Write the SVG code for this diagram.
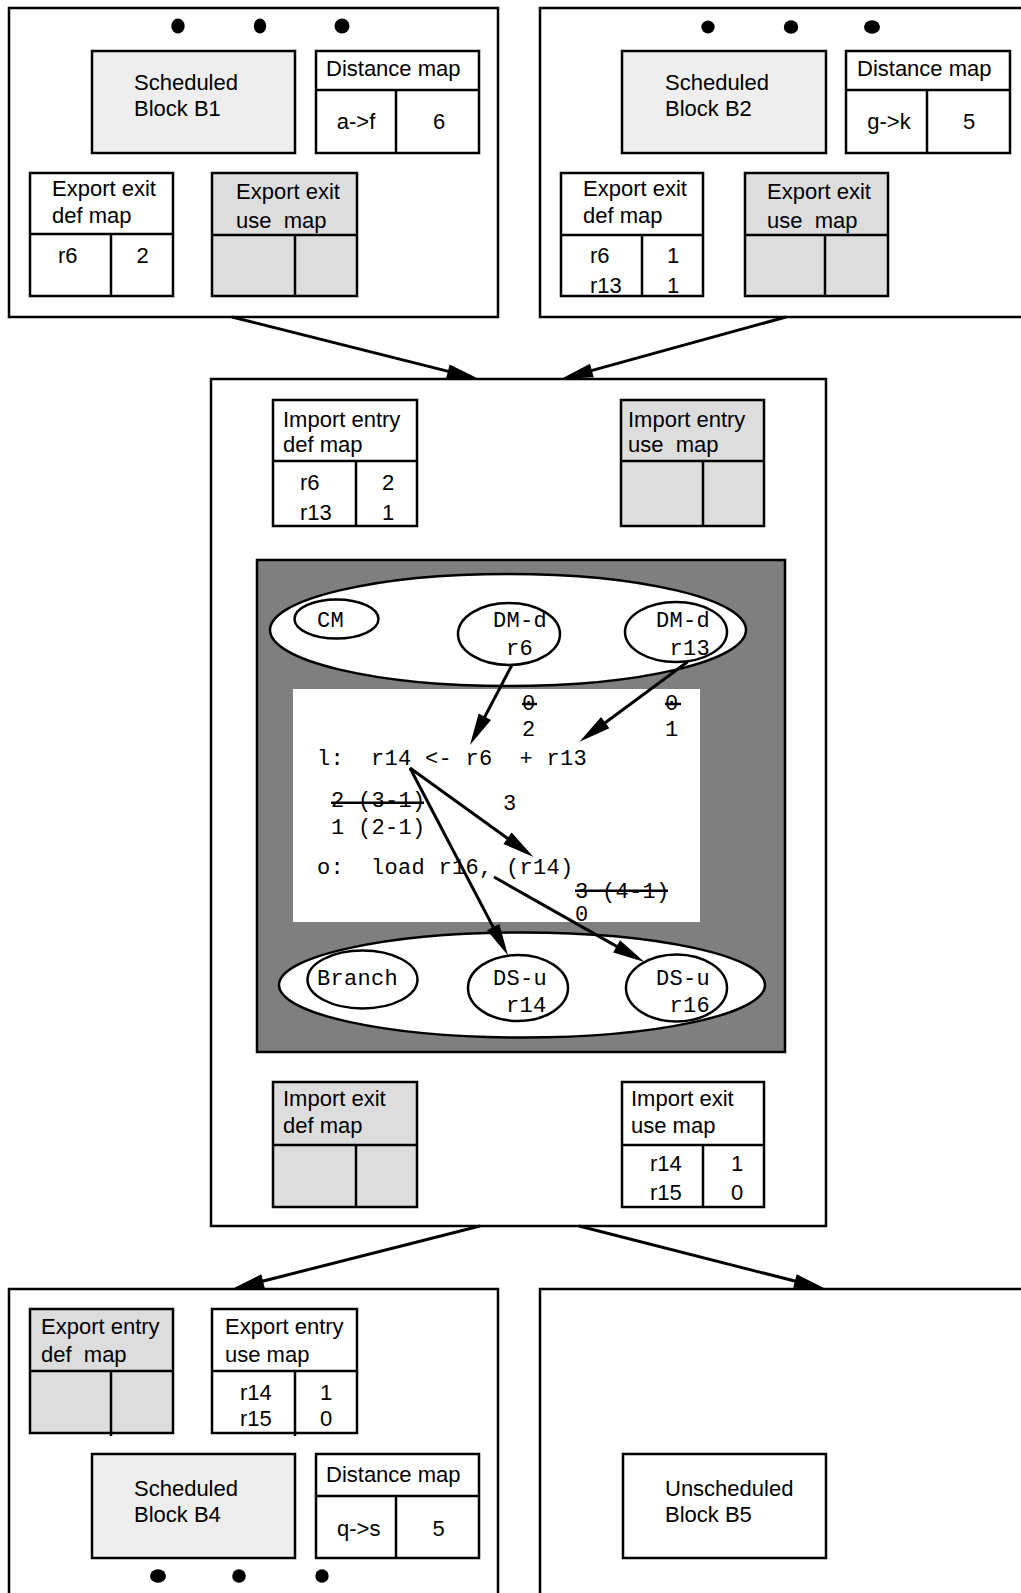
<svg xmlns="http://www.w3.org/2000/svg" width="1021" height="1593" viewBox="0 0 1021 1593">
  <style>
    .box { fill: #ffffff; stroke: #000000; stroke-width: 2.5; }
    .sched { fill: #eeeeee; stroke: #000000; stroke-width: 2.5; }
    .grey { fill: #dddddd; stroke: #000000; stroke-width: 2.5; }
    .dark { fill: #7f7f7f; stroke: #000000; stroke-width: 2.5; }
    .code { fill: #ffffff; stroke: none; }
    .ell { fill: #ffffff; stroke: #000000; stroke-width: 2.5; }
    .ln { stroke: #000000; stroke-width: 2.5; fill: none; }
    .strike { stroke: #000000; stroke-width: 2.5; }
    .dot { fill: #000000; }
    .t { font-family: "Liberation Sans", Arial, sans-serif; font-size: 22px; fill: #000000; white-space: pre; }
    .c { text-anchor: middle; }
    .m { font-family: "Liberation Mono", "Courier New", monospace; font-size: 22px; letter-spacing: 0.3px; fill: #000000; white-space: pre; }
    .conn { stroke: #000000; stroke-width: 3; fill: none; marker-end: url(#ah); }
  </style>
  <defs>
    <marker id="ah" markerUnits="userSpaceOnUse" markerWidth="34" markerHeight="15" refX="24" refY="7" orient="auto" overflow="visible">
      <path d="M0,0 L32,7 L0,14 Z" fill="#000000"/>
    </marker>
  </defs>

  <!-- Scheduled block B1 -->
  <g id="blockB1">
    <rect class="box" x="9" y="8" width="489" height="309"/>
    <ellipse class="dot" cx="178" cy="26" rx="6.7" ry="7.5"/>
    <ellipse class="dot" cx="260" cy="26" rx="6.2" ry="7.5"/>
    <ellipse class="dot" cx="342" cy="26" rx="7.5" ry="7.5"/>
    <rect class="sched" x="92" y="51" width="203" height="102"/>
    <text class="t" x="134" y="90">Scheduled</text>
    <text class="t" x="134" y="116">Block B1</text>
    <rect class="box" x="316" y="51" width="163" height="102"/>
    <line class="ln" x1="316" y1="90" x2="479" y2="90"/>
    <line class="ln" x1="396" y1="90" x2="396" y2="153"/>
    <text class="t" x="326" y="76">Distance map</text>
    <text class="t c" x="356" y="129">a-&gt;f</text>
    <text class="t c" x="439" y="129">6</text>
    <rect class="box" x="30" y="173" width="143" height="123"/>
    <line class="ln" x1="30" y1="234" x2="173" y2="234"/>
    <line class="ln" x1="111" y1="234" x2="111" y2="296"/>
    <text class="t" x="52" y="196">Export exit</text>
    <text class="t" x="52" y="223">def map</text>
    <text class="t" x="58" y="263">r6</text>
    <text class="t c" x="142.5" y="263">2</text>
    <rect class="grey" x="212" y="173" width="145" height="123"/>
    <line class="ln" x1="212" y1="235" x2="357" y2="235"/>
    <line class="ln" x1="295" y1="235" x2="295" y2="296"/>
    <text class="t" x="236" y="199">Export exit</text>
    <text class="t" x="236" y="228" xml:space="preserve">use  map</text>
  </g>

  <!-- Scheduled block B2 -->
  <g id="blockB2">
    <rect class="box" x="540" y="8" width="490" height="309"/>
    <ellipse class="dot" cx="708" cy="27" rx="6.7" ry="6.5"/>
    <ellipse class="dot" cx="791" cy="27" rx="7.2" ry="6.7"/>
    <ellipse class="dot" cx="872" cy="27" rx="8" ry="6.7"/>
    <rect class="sched" x="622" y="51" width="204" height="102"/>
    <text class="t" x="665" y="90">Scheduled</text>
    <text class="t" x="665" y="116">Block B2</text>
    <rect class="box" x="846" y="51" width="164" height="102"/>
    <line class="ln" x1="846" y1="90" x2="1010" y2="90"/>
    <line class="ln" x1="927" y1="90" x2="927" y2="153"/>
    <text class="t" x="857" y="76">Distance map</text>
    <text class="t c" x="889" y="129">g-&gt;k</text>
    <text class="t c" x="969" y="129">5</text>
    <rect class="box" x="561" y="173" width="142" height="123"/>
    <line class="ln" x1="561" y1="235" x2="703" y2="235"/>
    <line class="ln" x1="642" y1="235" x2="642" y2="296"/>
    <text class="t" x="583" y="196">Export exit</text>
    <text class="t" x="583" y="223">def map</text>
    <text class="t" x="590" y="263">r6</text>
    <text class="t" x="590" y="293">r13</text>
    <text class="t c" x="673" y="263">1</text>
    <text class="t c" x="673" y="293">1</text>
    <rect class="grey" x="745" y="173" width="143" height="123"/>
    <line class="ln" x1="745" y1="235" x2="888" y2="235"/>
    <line class="ln" x1="825" y1="235" x2="825" y2="296"/>
    <text class="t" x="767" y="199">Export exit</text>
    <text class="t" x="767" y="228" xml:space="preserve">use  map</text>
  </g>

  <!-- Block being scheduled: maps and dependence graph -->
  <g id="blockB3">
    <rect class="box" x="211" y="379" width="615" height="847"/>
    <rect class="box" x="273" y="400" width="144" height="126"/>
    <line class="ln" x1="273" y1="461" x2="417" y2="461"/>
    <line class="ln" x1="356" y1="461" x2="356" y2="526"/>
    <text class="t" x="283" y="426.5">Import entry</text>
    <text class="t" x="283" y="451.5">def map</text>
    <text class="t" x="300" y="490">r6</text>
    <text class="t" x="300" y="520">r13</text>
    <text class="t c" x="388" y="490">2</text>
    <text class="t c" x="388" y="520">1</text>
    <rect class="grey" x="621" y="400" width="143" height="126"/>
    <line class="ln" x1="621" y1="461" x2="764" y2="461"/>
    <line class="ln" x1="703" y1="461" x2="703" y2="526"/>
    <text class="t" x="628" y="426.5">Import entry</text>
    <text class="t" x="628" y="451.5" xml:space="preserve">use  map</text>

    <rect class="dark" x="257" y="560" width="528" height="492"/>
    <rect class="code" x="293" y="689" width="407" height="233"/>

    <g id="entryNodes">
      <ellipse class="ell" cx="508" cy="630" rx="238" ry="56"/>
      <ellipse class="ell" cx="336.5" cy="619" rx="42" ry="19.5"/>
      <text class="m" x="317" y="627">CM</text>
      <ellipse class="ell" cx="509" cy="634" rx="51" ry="31"/>
      <text class="m" x="493" y="627">DM-d</text>
      <text class="m" x="506" y="655">r6</text>
      <ellipse class="ell" cx="676" cy="632" rx="51" ry="30"/>
      <text class="m" x="656" y="627">DM-d</text>
      <text class="m" x="669.5" y="655">r13</text>
    </g>

    <g id="instructions">
      <text class="m" x="522" y="710">0</text>
      <line class="strike" x1="522" y1="704" x2="537" y2="704"/>
      <text class="m" x="522" y="736">2</text>
      <text class="m" x="665" y="710">0</text>
      <line class="strike" x1="665" y1="704" x2="681" y2="704"/>
      <text class="m" x="665" y="736">1</text>
      <text class="m" x="317" y="765" xml:space="preserve">l:  r14 &lt;- r6  + r13</text>
      <text class="m" x="331" y="807" xml:space="preserve">2 (3-1)</text>
      <line class="strike" x1="331" y1="802.7" x2="424" y2="802.7"/>
      <text class="m" x="331" y="834" xml:space="preserve">1 (2-1)</text>
      <text class="m" x="503" y="810">3</text>
      <text class="m" x="317" y="874" xml:space="preserve">o:  load r16, (r14)</text>
      <text class="m" x="575" y="898" xml:space="preserve">3 (4-1)</text>
      <line class="strike" x1="575" y1="890.7" x2="668" y2="890.7"/>
      <text class="m" x="575" y="921">0</text>
    </g>

    <g id="exitNodes">
      <ellipse class="ell" cx="522" cy="985" rx="243" ry="52.5"/>
      <ellipse class="ell" cx="362.5" cy="979.5" rx="55" ry="29"/>
      <text class="m" x="317" y="985">Branch</text>
      <ellipse class="ell" cx="518" cy="988" rx="50" ry="33"/>
      <text class="m" x="493" y="985">DS-u</text>
      <text class="m" x="506" y="1012">r14</text>
      <ellipse class="ell" cx="676.5" cy="988" rx="50.5" ry="33.5"/>
      <text class="m" x="656" y="985">DS-u</text>
      <text class="m" x="669.5" y="1012">r16</text>
    </g>

    <rect class="grey" x="273" y="1082" width="144" height="125"/>
    <line class="ln" x1="273" y1="1145" x2="417" y2="1145"/>
    <line class="ln" x1="356" y1="1145" x2="356" y2="1207"/>
    <text class="t" x="283" y="1106">Import exit</text>
    <text class="t" x="283" y="1132.5">def map</text>
    <rect class="box" x="622" y="1082" width="142" height="125"/>
    <line class="ln" x1="622" y1="1145" x2="764" y2="1145"/>
    <line class="ln" x1="703" y1="1145" x2="703" y2="1207"/>
    <text class="t" x="631" y="1106">Import exit</text>
    <text class="t" x="631" y="1132.5">use map</text>
    <text class="t" x="650" y="1171">r14</text>
    <text class="t" x="650" y="1200">r15</text>
    <text class="t c" x="737" y="1171">1</text>
    <text class="t c" x="737" y="1200">0</text>
  </g>

  <!-- Scheduled block B4 -->
  <g id="blockB4">
    <rect class="box" x="9" y="1289" width="489" height="320"/>
    <rect class="grey" x="30" y="1309" width="143" height="124"/>
    <line class="ln" x1="30" y1="1371" x2="173" y2="1371"/>
    <line class="ln" x1="111" y1="1371" x2="111" y2="1436"/>
    <text class="t" x="41" y="1334">Export entry</text>
    <text class="t" x="41" y="1362" xml:space="preserve">def  map</text>
    <rect class="box" x="212" y="1309" width="145" height="124"/>
    <line class="ln" x1="212" y1="1371" x2="357" y2="1371"/>
    <line class="ln" x1="295" y1="1371" x2="295" y2="1436"/>
    <text class="t" x="225" y="1334">Export entry</text>
    <text class="t" x="225" y="1362">use map</text>
    <text class="t" x="240" y="1400">r14</text>
    <text class="t" x="240" y="1426">r15</text>
    <text class="t c" x="326" y="1400">1</text>
    <text class="t c" x="326" y="1426">0</text>
    <rect class="sched" x="92" y="1454" width="203" height="104"/>
    <text class="t" x="134" y="1496">Scheduled</text>
    <text class="t" x="134" y="1522">Block B4</text>
    <rect class="box" x="316" y="1454" width="163" height="104"/>
    <line class="ln" x1="316" y1="1496" x2="479" y2="1496"/>
    <line class="ln" x1="396" y1="1496" x2="396" y2="1558"/>
    <text class="t" x="326" y="1482">Distance map</text>
    <text class="t c" x="358.7" y="1536">q-&gt;s</text>
    <text class="t c" x="438.5" y="1536">5</text>
    <ellipse class="dot" cx="158" cy="1576" rx="8" ry="6.7"/>
    <ellipse class="dot" cx="239" cy="1576" rx="6.8" ry="6.7"/>
    <ellipse class="dot" cx="322" cy="1576" rx="6.7" ry="6.7"/>
  </g>

  <!-- Unscheduled block B5 -->
  <g id="blockB5">
    <rect class="box" x="540" y="1289" width="490" height="320"/>
    <rect class="box" x="623" y="1454" width="203" height="104"/>
    <text class="t" x="665" y="1496">Unscheduled</text>
    <text class="t" x="665" y="1522">Block B5</text>
  </g>

  <!-- Control-flow edges and dependence edges -->
  <g id="connectors">
    <line class="conn" x1="232" y1="317" x2="471.2" y2="377.1"/>
    <line class="conn" x1="786" y1="317" x2="568.7" y2="376.9"/>
    <line class="conn" x1="480" y1="1226" x2="239.8" y2="1287"/>
    <line class="conn" x1="579" y1="1226" x2="818.2" y2="1287"/>
    <line class="conn" x1="512" y1="665" x2="473.7" y2="737.9"/>
    <line class="conn" x1="687.7" y1="661.7" x2="585.9" y2="737"/>
    <line class="conn" x1="410" y1="768" x2="527" y2="852.3"/>
    <line class="conn" x1="410" y1="768" x2="504.3" y2="948.4"/>
    <line class="conn" x1="494" y1="877" x2="637.5" y2="958.1"/>
  </g>
</svg>
